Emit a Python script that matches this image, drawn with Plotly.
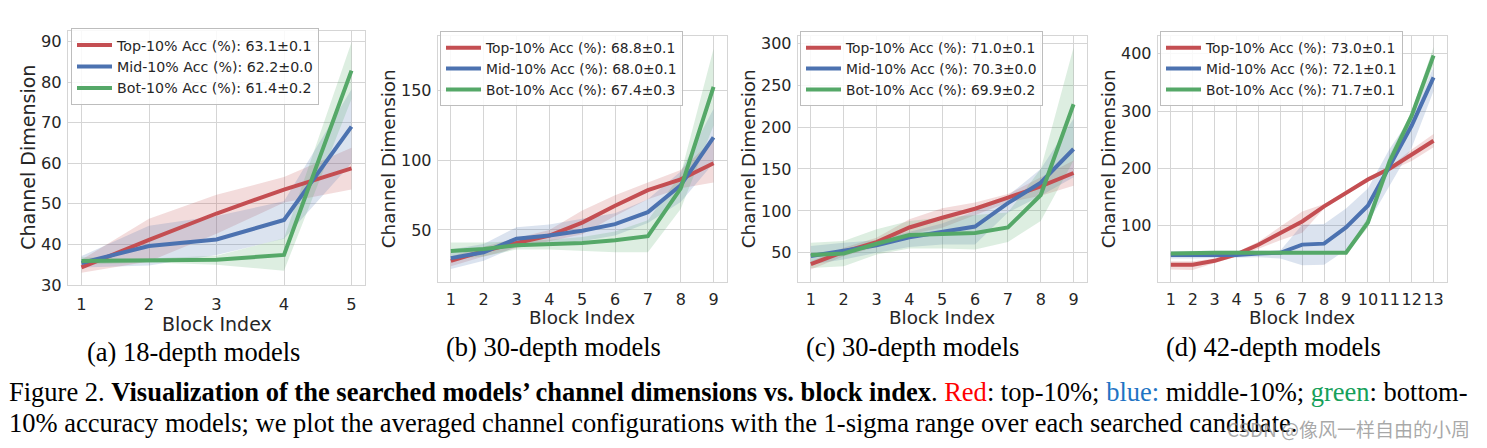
import plotly.graph_objects as go

W, H = 1487, 448

# ---------------- data ----------------
blocks_a = [1, 2, 3, 4, 5]
top_a = [34.3, 41.1, 47.6, 53.5, 58.7]
top_a_hi = [36.2, 46.3, 52.2, 56.6, 63.8]
top_a_lo = [33.0, 35.8, 42.6, 50.3, 53.5]
mid_a = [35.4, 39.6, 41.2, 46.0, 69.0]
mid_a_hi = [37.1, 44.6, 47.0, 50.6, 78.2]
mid_a_lo = [34.3, 34.8, 37.4, 41.4, 60.0]
bot_a = [35.9, 36.0, 36.2, 37.4, 82.8]
bot_a_hi = [36.8, 36.5, 37.2, 41.5, 89.8]
bot_a_lo = [35.0, 35.5, 35.0, 33.5, 75.8]

blocks_b = [1, 2, 3, 4, 5, 6, 7, 8, 9]
top_b = [27.9, 34.9, 40.7, 46.0, 55.3, 67.4, 78.6, 86.3, 97.9]
top_b_hi = [31, 38, 44, 50, 64, 75, 84, 93, 115]
top_b_lo = [24, 31, 37, 42, 47, 60, 72, 80, 84]
mid_b = [29.8, 34.0, 43.7, 46.0, 49.5, 54.2, 62.8, 82.1, 116.5]
mid_b_hi = [36, 40, 52, 54, 58, 62, 72, 92, 137]
mid_b_lo = [22, 28, 38, 40, 42, 46, 55, 70, 98]
bot_b = [34.9, 36.3, 39.1, 40.2, 40.7, 42.6, 45.6, 79.8, 152.6]
bot_b_hi = [41, 41, 42, 43, 45, 49, 57, 90, 180]
bot_b_lo = [29, 31, 36, 36, 35, 34, 34, 65, 125]

blocks_c = [1, 2, 3, 4, 5, 6, 7, 8, 9]
top_c = [36.5, 51.2, 62.8, 80.2, 91.8, 102.6, 115.8, 129.3, 145.2]
top_c_hi = [40, 56, 68, 90, 103, 110, 120, 140, 160]
top_c_lo = [30, 46, 57, 72, 80, 95, 110, 118, 130]
mid_c = [46.1, 51.9, 58.9, 68.6, 75.2, 81.3, 109.2, 133.6, 173.8]
mid_c_hi = [58, 62, 65, 75, 85, 100, 118, 150, 210]
mid_c_lo = [36, 42, 50, 57, 60, 60, 98, 118, 140]
bot_c = [47.3, 49.2, 60.8, 71.3, 72.4, 73.6, 80.2, 118.9, 227.2]
bot_c_hi = [62, 64, 78, 88, 92, 95, 98, 150, 295]
bot_c_lo = [32, 34, 48, 55, 55, 54, 63, 88, 160]

blocks_d = [1, 2, 3, 4, 5, 6, 7, 8, 9, 10, 11, 12, 13]
top_d = [32, 32, 38.9, 50.2, 67, 86.5, 107.5, 134, 157.7, 180.9, 200, 224.5, 248.3]
top_d_hi = [38, 38, 43, 54, 72, 98, 125, 138, 160, 185, 203, 233, 260]
top_d_lo = [24, 23, 35, 46, 60, 75, 88, 130, 155, 177, 196, 213, 237]
mid_d = [49, 49, 49, 49, 51.9, 53, 67.2, 68.9, 97.2, 135, 204.7, 275, 359]
mid_d_hi = [56, 56, 56, 56, 56, 57, 102, 103, 130, 165, 235, 290, 377]
mid_d_lo = [43, 43, 44, 44, 45, 43, 31, 32, 58, 105, 170, 236, 335]
bot_d = [51.9, 53, 53, 53, 53, 53, 53, 53, 53, 105.7, 213, 292, 397]
bot_d_hi = [54, 55, 55, 55, 55, 55, 55, 55, 55, 115, 225, 300, 412]
bot_d_lo = [50, 51, 51, 51, 51, 51, 51, 51, 51, 97, 200, 285, 380]

labels_a = ["Top-10% Acc (%): 63.1±0.1", "Mid-10% Acc (%): 62.2±0.0", "Bot-10% Acc (%): 61.4±0.2"]
labels_b = ["Top-10% Acc (%): 68.8±0.1", "Mid-10% Acc (%): 68.0±0.1", "Bot-10% Acc (%): 67.4±0.3"]
labels_c = ["Top-10% Acc (%): 71.0±0.1", "Mid-10% Acc (%): 70.3±0.0", "Bot-10% Acc (%): 69.9±0.2"]
labels_d = ["Top-10% Acc (%): 73.0±0.1", "Mid-10% Acc (%): 72.1±0.1", "Bot-10% Acc (%): 71.7±0.1"]

subcaptions = ["(a) 18-depth models", "(b) 30-depth models", "(c) 30-depth models", "(d) 42-depth models"]

# ---------------- styling ----------------
COLORS = ["#C44E52", "#4C72B0", "#55A868"]
FILLS = ["rgba(196,78,82,0.2)", "rgba(76,114,176,0.2)", "rgba(85,168,104,0.2)"]
TXT = "#262626"
GRID = "#d5d5d5"
SANS = "DejaVu Sans"
SERIF = "Liberation Serif"


def px(x):
    return x / W


def py(y):
    return 1 - y / H


panels = [
    dict(x=blocks_a, series=[(top_a, top_a_lo, top_a_hi), (mid_a, mid_a_lo, mid_a_hi), (bot_a, bot_a_lo, bot_a_hi)],
         labels=labels_a, box=(68, 365, 29.3, 290.7), xr=[0.8, 5.2], yr=[30, 92.7], yt=[30, 40, 50, 60, 70, 80, 90],
         leg=(71, 27), ytitle_x=28, xtitle_y=331, cap=(193, 360), fs=(16.3, 19, 14.2), xso=5),
    dict(x=blocks_b, series=[(top_b, top_b_lo, top_b_hi), (mid_b, mid_b_lo, mid_b_hi), (bot_b, bot_b_lo, bot_b_hi)],
         labels=labels_b, box=(437.7, 726.7, 35, 287.7), xr=[0.6, 9.4], yr=[12.7, 189.1], yt=[50, 100, 150],
         leg=(440, 30), ytitle_x=388.3, xtitle_y=324, cap=(553, 355), fs=(16, 18.4, 13.8), xso=3),
    dict(x=blocks_c, series=[(top_c, top_c_lo, top_c_hi), (mid_c, mid_c_lo, mid_c_hi), (bot_c, bot_c_lo, bot_c_hi)],
         labels=labels_c, box=(797.7, 1086.7, 35, 287.7), xr=[0.6, 9.4], yr=[15.2, 308.5], yt=[50, 100, 150, 200, 250, 300],
         leg=(800, 30), ytitle_x=748.3, xtitle_y=324, cap=(913, 355), fs=(16, 18.4, 13.8), xso=3),
    dict(x=blocks_d, series=[(top_d, top_d_lo, top_d_hi), (mid_d, mid_d_lo, mid_d_hi), (bot_d, bot_d_lo, bot_d_hi)],
         labels=labels_d, box=(1157.7, 1446.7, 35, 287.7), xr=[0.4, 13.6], yr=[2.0, 431], yt=[100, 200, 300, 400],
         leg=(1160, 30), ytitle_x=1108.3, xtitle_y=324, cap=(1273, 355), fs=(16, 18.4, 13.8), xso=3),
]

fig = go.Figure()
layout = dict(width=W, height=H, margin=dict(l=0, r=0, t=0, b=0),
              paper_bgcolor="white", plot_bgcolor="white", showlegend=True,
              font=dict(family=SANS, color=TXT))
annotations = []

for i, p in enumerate(panels):
    n = "" if i == 0 else str(i + 1)
    xa, ya = "x" + n, "y" + n
    lg = "legend" + n
    tfs, afs, lfs = p["fs"]
    # bands
    for k, (mean, lo, hi) in enumerate(p["series"]):
        xs = list(p["x"]) + list(p["x"])[::-1]
        ys = list(hi) + list(lo)[::-1]
        fig.add_trace(go.Scatter(x=xs, y=ys, mode="lines", fill="toself", fillcolor=FILLS[k],
                                 line=dict(width=0, color=FILLS[k]), showlegend=False,
                                 hoverinfo="skip", xaxis=xa, yaxis=ya))
    # lines
    for k, (mean, lo, hi) in enumerate(p["series"]):
        fig.add_trace(go.Scatter(x=p["x"], y=mean, mode="lines", name=p["labels"][k],
                                 line=dict(width=4, color=COLORS[k]), xaxis=xa, yaxis=ya, legend=lg))
    l, r, t, b = p["box"]
    layout["xaxis" + n] = dict(domain=[px(l), px(r)], range=p["xr"], anchor=ya, tickmode="array",
                               tickvals=p["x"], ticktext=[str(v) for v in p["x"]], tickangle=0,
                               showgrid=True, gridcolor=GRID, gridwidth=1, zeroline=False,
                               showline=True, mirror=True, linecolor=GRID, linewidth=1,
                               ticks="", ticklabelstandoff=p["xso"],
                               tickfont=dict(family=SANS, size=tfs, color=TXT))
    layout["yaxis" + n] = dict(domain=[py(b), py(t)], range=p["yr"], anchor=xa, tickmode="array",
                               tickvals=p["yt"], showgrid=True, gridcolor=GRID, gridwidth=1, zeroline=False,
                               showline=True, mirror=True, linecolor=GRID, linewidth=1,
                               ticks="", ticklabelstandoff=2,
                               tickfont=dict(family=SANS, size=tfs, color=TXT))
    layout[lg] = dict(x=px(p["leg"][0]), y=py(p["leg"][1]), xanchor="left", yanchor="top",
                      bgcolor="rgba(255,255,255,0.85)", bordercolor="#bdbdbd", borderwidth=1,
                      font=dict(family=SANS, size=lfs, color=TXT), tracegroupgap=0, itemwidth=35)
    # axis titles
    annotations.append(dict(text="Block Index", x=px((l + r) / 2), y=py(p["xtitle_y"]), xref="paper", yref="paper",
                            xanchor="center", yanchor="middle", showarrow=False,
                            font=dict(family=SANS, size=afs, color=TXT)))
    annotations.append(dict(text="Channel Dimension", x=px(p["ytitle_x"]), y=py((t + b) / 2), xref="paper",
                            yref="paper", xanchor="center", yanchor="middle", showarrow=False, textangle=-90,
                            font=dict(family=SANS, size=afs, color=TXT)))
    # sub caption
    annotations.append(dict(text=subcaptions[i], x=px(p["cap"][0]), y=py(p["cap"][1]), xref="paper", yref="paper",
                            xanchor="center", yanchor="middle", showarrow=False,
                            font=dict(family=SERIF, size=26.5, color="black")))

line1 = ("Figure 2. <b>Visualization of the searched models’ channel dimensions vs. block index</b>. "
         "<span style='color:#ff0000'>Red</span>: top-10%; <span style='color:#1f74c4'>blue:</span> middle-10%; "
         "<span style='color:#16a05a'>green</span>: bottom-")
line2 = "10% accuracy models; we plot the averaged channel configurations with the 1-sigma range over each searched candidate."
annotations.append(dict(text=line1, x=px(7), y=py(401), xref="paper", yref="paper", xanchor="left",
                        yanchor="middle", showarrow=False, font=dict(family=SERIF, size=26.5, color="black")))
annotations.append(dict(text=line2, x=px(7), y=py(433), xref="paper", yref="paper", xanchor="left",
                        yanchor="middle", showarrow=False, font=dict(family=SERIF, size=26.5, color="black")))
annotations.append(dict(text="CSDN @像风一样自由的小周", x=px(1472), y=py(438), xref="paper", yref="paper",
                        xanchor="right", yanchor="middle", showarrow=False,
                        font=dict(family="Noto Sans CJK SC", size=19, color="rgba(140,140,140,0.75)")))

layout["annotations"] = annotations
fig.update_layout(**layout)
fig.write_html("out.html", config={"displayModeBar": False},
               post_script="document.body.style.margin='0px';document.body.style.overflow='hidden';")
